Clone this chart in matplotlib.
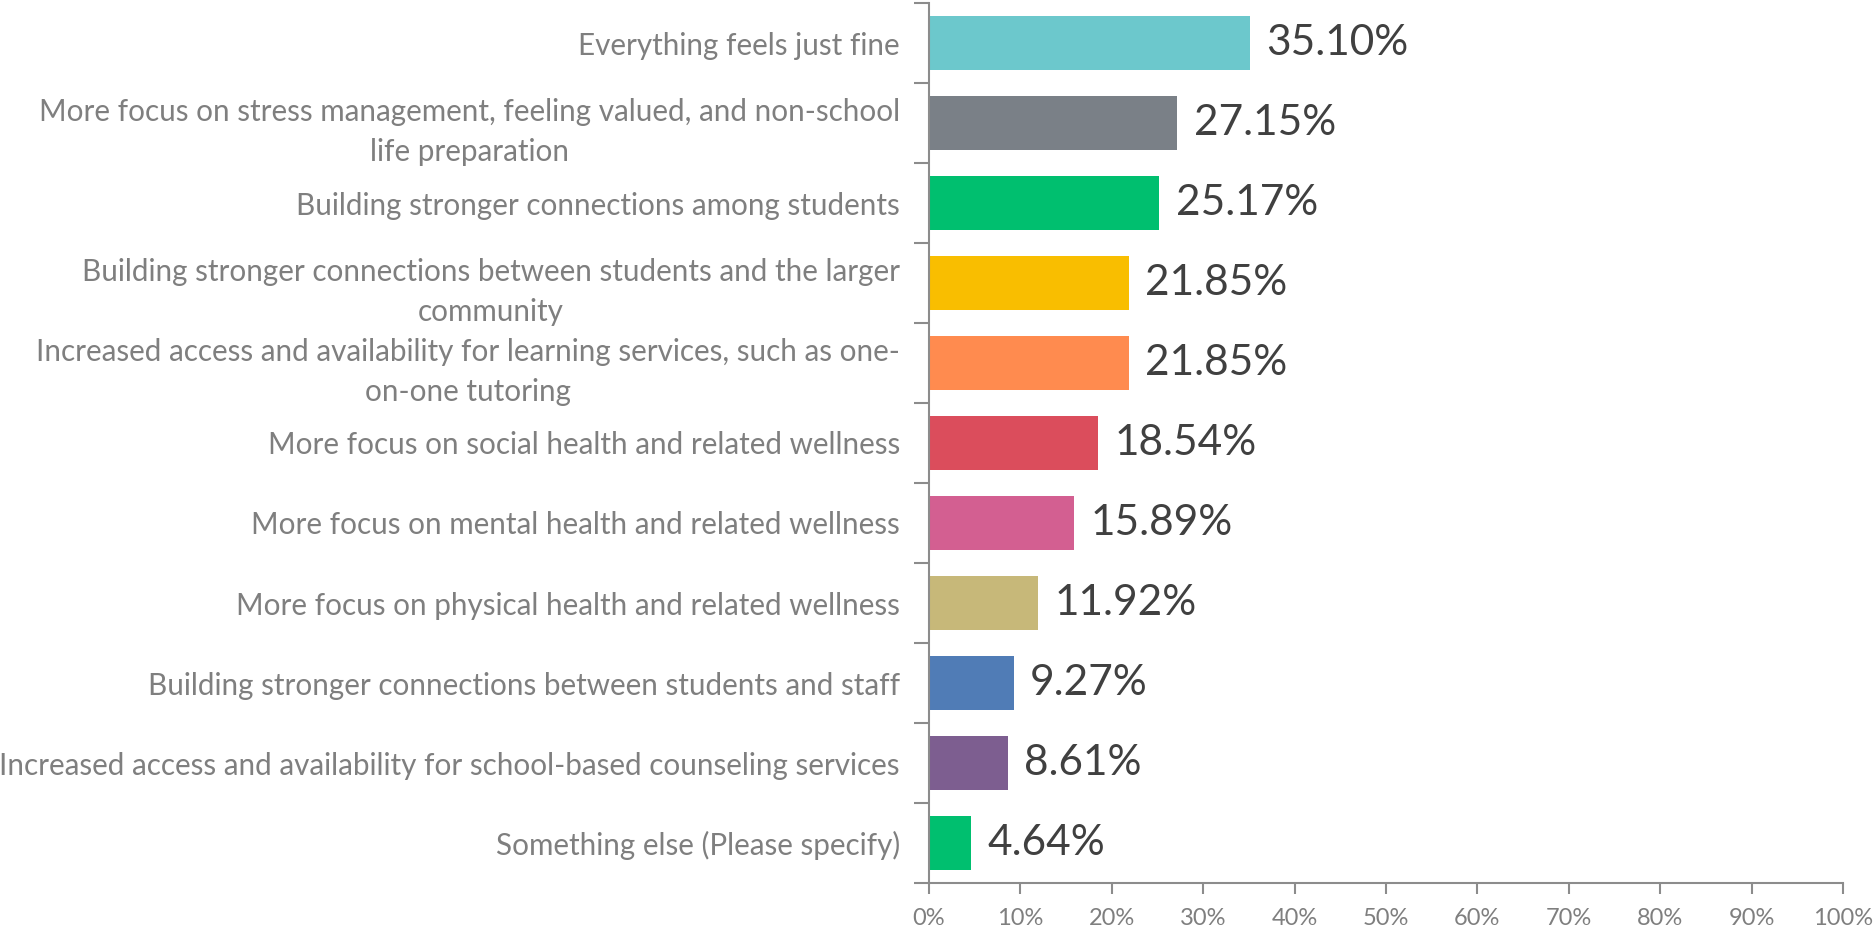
import matplotlib
matplotlib.use("Agg")
import matplotlib.pyplot as plt
from matplotlib.ticker import FixedLocator, FuncFormatter

categories = [
    "Everything feels just fine",
    "More focus on stress management, feeling valued, and non-school\nlife preparation",
    "Building stronger connections among students",
    "Building stronger connections between students and the larger\ncommunity",
    "Increased access and availability for learning services, such as one-\non-one tutoring",
    "More focus on social health and related wellness",
    "More focus on mental health and related wellness",
    "More focus on physical health and related wellness",
    "Building stronger connections between students and staff",
    "Increased access and availability for school-based counseling services",
    "Something else (Please specify)",
]
values = [35.10, 27.15, 25.17, 21.85, 21.85, 18.54, 15.89, 11.92, 9.27, 8.61, 4.64]
colors = ["#6CC8CC", "#7A8087", "#00BF6F", "#F9BE00", "#FF8B4F", "#DB4D5C",
          "#D35F91", "#C7B879", "#507CB6", "#7D5E90", "#00BF6F"]
xticks = list(range(0, 101, 10))

plt.rcParams['font.family'] = ['Lato', 'DejaVu Sans']

fig = plt.figure(figsize=(18.74, 9.35), dpi=100)
ax = fig.add_axes([929/1874, 1-883/935, (1843-929)/1874, 880/935])

n = len(categories)
ypos = list(range(n))
ax.barh(ypos, values, height=0.675, color=colors, zorder=2)
for y, v in zip(ypos, values):
    ax.text(v + 1.8, y, f"{v:.2f}%", va="center", ha="left",
            fontsize=30.5, color="#404040")

ax.set_xlim(0, 100)
ax.set_ylim(n - 0.5, -0.5)
ax.set_xticks(xticks)
ax.xaxis.set_major_formatter(FuncFormatter(lambda x, p: f"{int(x)}%"))
ax.tick_params(axis="x", direction="out", length=8, width=1.5, color="#8c8c8c",
               labelsize=17, labelcolor="#7f7f7f", pad=10)

ax.set_yticks(ypos)
ax.set_yticklabels(categories, fontsize=21.3, color="#7f7f7f",
                   multialignment="center", linespacing=1.55)
ax.tick_params(axis="y", which="major", length=0, pad=21)
ax.yaxis.set_minor_locator(FixedLocator([i - 0.5 for i in range(n + 1)]))
ax.tick_params(axis="y", which="minor", length=11, width=1.5, color="#8c8c8c",
               direction="out")

for s in ["top", "right"]:
    ax.spines[s].set_visible(False)
for s in ["left", "bottom"]:
    ax.spines[s].set_color("#8c8c8c")
    ax.spines[s].set_linewidth(1.5)

fig.savefig("out.png", dpi=100)
